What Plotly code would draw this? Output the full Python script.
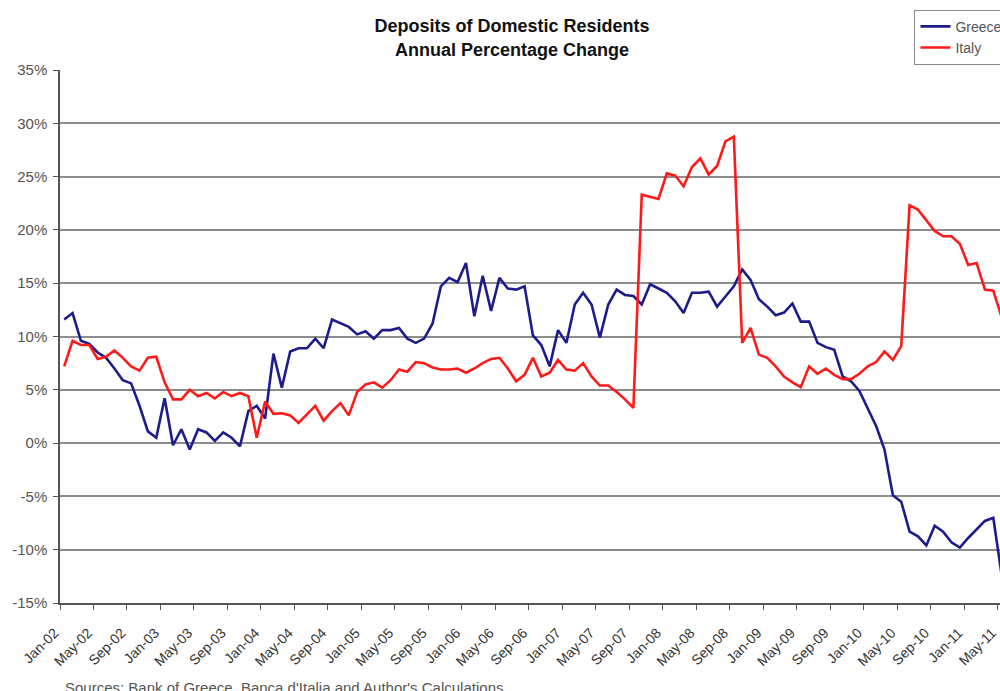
import plotly.graph_objects as go

# Monthly observations, Jan-02 .. May-11 (annual % change)
greece = [
    11.6, 12.2, 9.6, 9.3, 8.5, 8.0, 7.0, 5.9, 5.6, 3.5, 1.1, 0.5,
    4.2, -0.2, 1.3, -0.6, 1.3, 1.0, 0.2, 1.0, 0.5, -0.3, 3.0, 3.5,
    2.3, 8.4, 5.2, 8.6, 8.9, 8.9, 9.8, 8.9, 11.6, 11.25, 10.9, 10.2,
    10.5, 9.8, 10.6, 10.6, 10.8, 9.8, 9.4, 9.8, 11.2, 14.7, 15.5, 15.1,
    16.9, 11.9, 15.7, 12.4, 15.5, 14.5, 14.4, 14.7, 10.1, 9.2, 7.2, 10.6,
    9.4, 13.0, 14.1, 13.0, 9.9, 13.0, 14.4, 13.9, 13.8, 13.0, 14.9, 14.5,
    14.1, 13.3, 12.2, 14.1, 14.1, 14.2, 12.8, 13.75, 14.7, 16.3, 15.3, 13.5,
    12.8, 12.0, 12.25, 13.1, 11.4, 11.4, 9.4, 9.0, 8.75, 6.25, 5.8, 4.9,
    3.3, 1.6, -0.6, -4.9, -5.5, -8.3, -8.75, -9.6, -7.75, -8.3, -9.3, -9.8,
    -8.9, -8.1, -7.3, -7.0, -12.4,
]
italy = [
    7.2, 9.6, 9.2, 9.2, 7.9, 8.1, 8.7, 8.0, 7.2, 6.8, 8.0, 8.1,
    5.7, 4.1, 4.1, 5.0, 4.4, 4.7, 4.2, 4.8, 4.4, 4.7, 4.4, 0.5,
    3.9, 2.75, 2.8, 2.6, 1.9, 2.7, 3.5, 2.1, 3.0, 3.75, 2.6, 4.8,
    5.5, 5.7, 5.2, 5.9, 6.9, 6.7, 7.6, 7.5, 7.1, 6.9, 6.9, 7.0,
    6.6, 7.0, 7.5, 7.9, 8.0, 7.0, 5.8, 6.4, 8.0, 6.25, 6.6, 7.8,
    6.9, 6.8, 7.5, 6.25, 5.4, 5.4, 4.8, 4.1, 3.3, 23.3, 23.1, 22.9,
    25.3, 25.1, 24.1, 25.9, 26.7, 25.2, 26.0, 28.3, 28.75, 9.4, 10.8, 8.3,
    8.0, 7.2, 6.25, 5.7, 5.25, 7.2, 6.5, 7.0, 6.4, 6.0, 6.0, 6.5,
    7.2, 7.6, 8.6, 7.8, 9.1, 22.3, 21.9, 20.9, 19.9, 19.4, 19.4, 18.7,
    16.7, 16.9, 14.4, 14.3, 11.8,
]
tick_labels = [
    "Jan-02", "May-02", "Sep-02", "Jan-03", "May-03", "Sep-03", "Jan-04",
    "May-04", "Sep-04", "Jan-05", "May-05", "Sep-05", "Jan-06", "May-06",
    "Sep-06", "Jan-07", "May-07", "Sep-07", "Jan-08", "May-08", "Sep-08",
    "Jan-09", "May-09", "Sep-09", "Jan-10", "May-10", "Sep-10", "Jan-11",
    "May-11",
]
y_ticks = [-15, -10, -5, 0, 5, 10, 15, 20, 25, 30, 35]

# category positions: each month centred between category boundaries
x_pos = [i + 0.5 for i in range(len(greece))]
tick_pos = [4 * i for i in range(len(tick_labels))]

FONT = "Liberation Sans, Arial, sans-serif"

fig = go.Figure()
fig.add_trace(go.Scatter(x=x_pos, y=greece, mode="lines", name="Greece",
                         line=dict(color="#1c1c8a", width=2.6)))
fig.add_trace(go.Scatter(x=x_pos, y=italy, mode="lines", name="Italy",
                         line=dict(color="#ff1a1a", width=2.6)))

fig.update_layout(
    width=1000, height=691,
    margin=dict(l=60, r=0, t=70, b=88, autoexpand=False),
    paper_bgcolor="white", plot_bgcolor="white",
    font=dict(family=FONT, color="#333333"),
    title=dict(text="<b>Deposits of Domestic Residents<br>Annual Percentage Change</b>",
               x=0.512, xref="container", xanchor="center",
               y=0.953, yref="container", yanchor="middle",
               font=dict(size=18, color="#111111", family=FONT)),
    showlegend=True,
    legend=dict(x=0.909, y=1.113, xanchor="left", yanchor="top",
                bgcolor="white", bordercolor="#8a8a8a", borderwidth=1,
                font=dict(size=14, color="#555555", family=FONT),
                tracegroupgap=0, itemwidth=30),
    xaxis=dict(range=[0, 112.3], tickmode="array", tickvals=tick_pos,
               ticktext=[t + "\u00a0\u00a0" for t in tick_labels],
               tickangle=-45, showgrid=False,
               showline=True, linecolor="#555555", linewidth=1.5,
               ticks="outside", ticklen=5, tickcolor="#555555",
               ticklabelstandoff=4, ticklabeloverflow="allow",
               tickfont=dict(size=14, color="#333333", family=FONT),
               zeroline=False, fixedrange=True),
    yaxis=dict(range=[-15, 35], tickmode="array", tickvals=y_ticks,
               ticktext=[f"{v}%" for v in y_ticks], showgrid=True,
               gridcolor="#8c8c8c", gridwidth=1.5, showline=True,
               linecolor="#555555", linewidth=1.5, ticks="outside",
               ticklen=5, tickcolor="#555555", zeroline=False,
               ticklabelstandoff=3,
               tickfont=dict(size=15, color="#555555", family=FONT),
               fixedrange=True),
)

fig.add_annotation(
    text="Sources: Bank of Greece, Banca d'Italia and Author's Calculations.",
    xref="paper", yref="paper", x=0.003, y=-0.158, xanchor="left",
    yanchor="middle", showarrow=False,
    font=dict(size=15, color="#555555", family=FONT),
)

fig.write_html("out.html", config={"displayModeBar": False},
               post_script="document.body.style.margin='0px';document.body.style.overflow='hidden';")
